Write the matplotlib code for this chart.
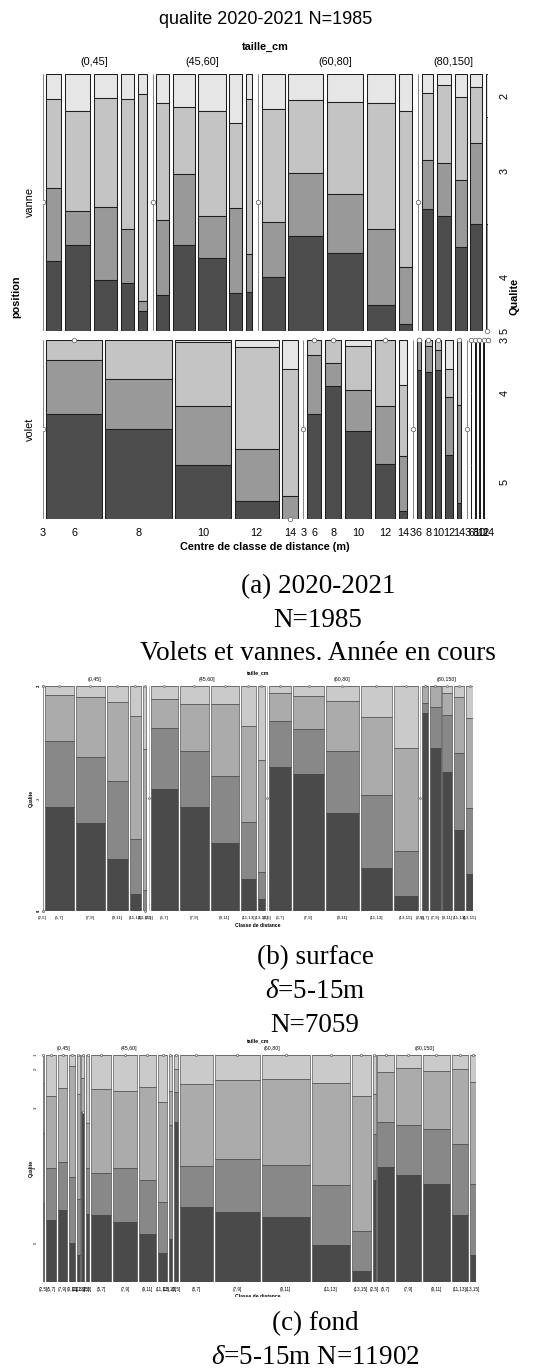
import matplotlib
matplotlib.use("Agg")
import matplotlib.pyplot as plt
from matplotlib.transforms import offset_copy
from matplotlib.patches import Rectangle
import numpy as np

W_PX, H_PX, DPI = 554, 1369, 100

plt.rcParams['font.family'] = ['Liberation Sans', 'DejaVu Sans']
plt.rcParams['mathtext.fontset'] = 'custom'
plt.rcParams['mathtext.rm'] = 'Liberation Serif'
plt.rcParams['mathtext.it'] = 'Liberation Serif:italic'

# ------------------------------------------------------------------ data
taille_classes = ["(0,45]", "(45,60]", "(60,80]", "(80,150]"]
distance_centres = ["3", "6", "8", "10", "12", "14"]
distance_classes = ["(2,5]", "(5,7]", "(7,9]", "(9,11]", "(11,13]", "(13,15]"]
qualite_a = ["2", "3", "4", "5"]
qualite_bc = ["1", "2", "3", "4", "5"]

# (a) 2020-2021 : counts per taille group x distance centre
vanne_counts = [[0, 50, 83, 76, 44, 30],
                [0, 42, 72, 90, 43, 20],
                [0, 76, 115, 119, 95, 44],
                [0, 38, 45, 40, 38, 8]]
volet_counts = [[0, 128, 153, 128, 102, 35],
                [0, 33, 38, 60, 46, 20],
                [0, 10, 16, 13, 19, 11],
                [0, 1, 1, 1, 1, 1]]
# proportions of qualite 2,3,4,5 in each column
vanne_props = [
    [[0, 0, 0, 0], [0.097, 0.346, 0.287, 0.270], [0.143, 0.391, 0.132, 0.334],
     [0.092, 0.427, 0.284, 0.197], [0.096, 0.507, 0.213, 0.184], [0.077, 0.809, 0.039, 0.075]],
    [[0, 0, 0, 0], [0.114, 0.454, 0.293, 0.139], [0.128, 0.261, 0.277, 0.334],
     [0.143, 0.410, 0.165, 0.282], [0.192, 0.332, 0.329, 0.147], [0.098, 0.603, 0.149, 0.150]],
    [[0, 0, 0, 0], [0.137, 0.439, 0.214, 0.210], [0.101, 0.285, 0.245, 0.369],
     [0.108, 0.360, 0.230, 0.302], [0.114, 0.490, 0.295, 0.101], [0.145, 0.609, 0.220, 0.026]],
    [[0, 0, 0, 0], [0.074, 0.260, 0.192, 0.474], [0.044, 0.304, 0.204, 0.448],
     [0.088, 0.325, 0.260, 0.327], [0.049, 0.219, 0.316, 0.416], [0.168, 0.416, 0.416, 0.0]],
]
volet_props = [
    [[0, 0, 0, 0], [0, 0.114, 0.302, 0.584], [0.004, 0.218, 0.277, 0.501],
     [0.015, 0.356, 0.328, 0.301], [0.043, 0.568, 0.289, 0.100], [0.162, 0.710, 0.128, 0.0]],
    [[0, 0, 0, 0], [0, 0.086, 0.328, 0.586], [0, 0.130, 0.129, 0.741],
     [0.034, 0.248, 0.229, 0.489], [0, 0.370, 0.325, 0.305], [0.252, 0.398, 0.307, 0.043]],
    [[0, 0, 0, 0], [0, 0, 0.168, 0.832], [0, 0.037, 0.146, 0.817],
     [0, 0.056, 0.112, 0.832], [0.164, 0.157, 0.323, 0.356], [0, 0.364, 0.548, 0.088]],
    [[0, 0, 0, 0], [0, 0.3, 0.4, 0.3], [0, 0.3, 0.4, 0.3],
     [0, 0.3, 0.4, 0.3], [0, 0.3, 0.4, 0.3], [0, 0, 0.592, 0.408]],
]
vanne_right_labels = ["2", "3", "4", "5"]
volet_right_labels = ["3", "4", "5"]

# (b) surface, N=7059 : proportions of qualite 1..5
surface_counts = [[1, 538, 529, 388, 203, 70],
                  [0, 494, 534, 516, 273, 134],
                  [0, 410, 556, 609, 574, 435],
                  [0, 103, 202, 184, 183, 123]]
surface_props = [
    [[0, 0, 1, 0, 0], [0, 0.040, 0.205, 0.295, 0.460], [0, 0.047, 0.267, 0.297, 0.389],
     [0, 0.070, 0.352, 0.346, 0.232], [0, 0.134, 0.545, 0.247, 0.074], [0, 0.28, 0.63, 0.09, 0.0]],
    [[0, 0, 0, 0, 0], [0, 0.059, 0.129, 0.270, 0.542], [0, 0.080, 0.209, 0.248, 0.463],
     [0, 0.080, 0.320, 0.300, 0.300], [0, 0.178, 0.426, 0.257, 0.139], [0, 0.329, 0.500, 0.120, 0.051]],
    [[0, 0, 0, 0, 0], [0, 0.033, 0.123, 0.203, 0.641], [0, 0.043, 0.150, 0.199, 0.608],
     [0, 0.065, 0.224, 0.274, 0.437], [0, 0.139, 0.346, 0.326, 0.189], [0, 0.274, 0.460, 0.200, 0.066]],
    [[0, 0, 0, 0, 0], [0, 0, 0.074, 0.046, 0.880], [0, 0, 0.095, 0.180, 0.725],
     [0, 0.033, 0.096, 0.252, 0.619], [0, 0.047, 0.252, 0.344, 0.357], [0, 0.144, 0.400, 0.293, 0.163]],
]

# (c) fond, N=11902
fond_counts = [[43, 324, 278, 201, 78, 78],
               [86, 623, 718, 545, 273, 86],
               [115, 1022, 1369, 1462, 1166, 574],
               [78, 508, 766, 833, 491, 184]]
fond_props = [
    [[0, 0.124, 0.22, 0.31, 0.346], [0, 0.181, 0.316, 0.231, 0.272], [0, 0.144, 0.326, 0.212, 0.318],
     [0, 0.05, 0.49, 0.29, 0.17], [0, 0.17, 0.467, 0.245, 0.118], [0, 0.1, 0.15, 0.0, 0.75]],
    [[0, 0.3, 0.2, 0.2, 0.3], [0, 0.151, 0.371, 0.184, 0.294], [0, 0.157, 0.343, 0.235, 0.265],
     [0, 0.143, 0.408, 0.24, 0.209], [0, 0.206, 0.441, 0.228, 0.125], [0, 0.16, 0.15, 0.5, 0.19]],
    [[0, 0.062, 0.1, 0.132, 0.706], [0, 0.129, 0.359, 0.184, 0.328], [0, 0.11, 0.349, 0.232, 0.309],
     [0, 0.106, 0.378, 0.232, 0.284], [0, 0.125, 0.449, 0.262, 0.164], [0, 0.181, 0.596, 0.174, 0.049]],
    [[0, 0.17, 0.18, 0.2, 0.45], [0, 0.076, 0.221, 0.199, 0.504], [0, 0.059, 0.25, 0.22, 0.471],
     [0, 0.071, 0.256, 0.24, 0.433], [0, 0.063, 0.331, 0.313, 0.293], [0, 0.118, 0.452, 0.313, 0.117]],
]

colors_a = ["#E6E6E6", "#C4C4C4", "#999999", "#4D4D4D"]
colors_bc = ["#EEEEEE", "#CACACA", "#ABABAB", "#888888", "#4A4A4A"]

# ------------------------------------------------------------------ helpers
fig = plt.figure(figsize=(W_PX / DPI, H_PX / DPI), dpi=DPI)
fig.patch.set_facecolor("white")


def rect(x0, y0, x1, y1):
    return [x0 / W_PX, 1 - y1 / H_PX, (x1 - x0) / W_PX, (y1 - y0) / H_PX]


def ftext(x, y, s, **kw):
    return fig.text(x / W_PX, 1 - y / H_PX, s, **kw)


def xtext(ax, x, yax, s, dy=0.0, **kw):
    tr = offset_copy(ax.get_xaxis_transform(), fig=fig, x=0, y=dy, units="dots")
    return ax.text(x, yax, s, transform=tr, **kw)


def ytext(ax, xax, y, s, dx=0.0, **kw):
    tr = offset_copy(ax.get_yaxis_transform(), fig=fig, x=dx, y=0, units="dots")
    return ax.text(xax, y, s, transform=tr, **kw)


def mosaic(ax, counts, props, colors, gi, gg, ec, lw, ms, zc="#8A8A8A"):
    total = sum(sum(g) for g in counts)
    ncols = sum(len(g) for g in counts)
    ng = len(counts)
    W = total / (1 - (ncols - ng) * gi - (ng - 1) * gg)
    x = 0.0
    centres, spans, cells = [], [], []
    for gidx, (gc, gp) in enumerate(zip(counts, props)):
        g0 = x
        for cidx, (c, p) in enumerate(zip(gc, gp)):
            centres.append(x + c / 2)
            if c == 0:
                ax.plot([x, x], [0, 1], color=zc, lw=lw, solid_capstyle="butt")
                ax.plot(x, 0.5, "o", ms=ms, mfc="white", mec="#707070", mew=0.6, zorder=5)
                cells.append(None)
            else:
                p = np.asarray(p, float)
                p = p / p.sum()
                bottoms = np.concatenate([[0], np.cumsum(p)[:-1]])
                ax.bar(x, p, width=c, bottom=bottoms, align="edge", color=colors,
                       edgecolor=ec, linewidth=lw)
                for v, b in zip(p, bottoms):
                    if v == 0:
                        ax.plot(x + c / 2, b, "o", ms=ms, mfc="white", mec="#707070",
                                mew=0.6, zorder=5, clip_on=False)
                cells.append(bottoms + p / 2)
            x += c
            if cidx < len(gc) - 1:
                x += gi * W
        spans.append((g0, x))
        if gidx < ng - 1:
            x += gg * W
    ax.set_xlim(0, W)
    ax.set_ylim(1, 0)
    ax.set_axis_off()
    return centres, spans, cells


# ------------------------------------------------------------------ panel (a)
A_L, A_R, A_T, A_B, A_GAP = 42.6, 488.0, 74.0, 519.0, 9.0
A_MID = (A_L + A_R) / 2
n_vanne = sum(map(sum, vanne_counts))
n_volet = sum(map(sum, volet_counts))
h_vanne = (A_B - A_T - A_GAP) * n_vanne / (n_vanne + n_volet)
ax_vanne = fig.add_axes(rect(A_L, A_T, A_R, A_T + h_vanne))
ax_volet = fig.add_axes(rect(A_L, A_T + h_vanne + A_GAP, A_R, A_B))

gi_a, gg_a = 0.00836, 0.01295
c_v, s_v, cells_v = mosaic(ax_vanne, vanne_counts, vanne_props, colors_a, gi_a, gg_a,
                           "#1E1E1E", 0.75, 3.2)
c_o, s_o, cells_o = mosaic(ax_volet, volet_counts, volet_props, colors_a, gi_a, gg_a,
                           "#1E1E1E", 0.75, 3.2)

for (g0, g1), lab in zip(s_v, taille_classes):
    xtext(ax_vanne, (g0 + g1) / 2, 1, lab, dy=12, ha="center", va="center", fontsize=7.8)
for xc, lab in zip(c_o, distance_centres * 4):
    xtext(ax_volet, xc, 0, lab, dy=-14, ha="center", va="center", fontsize=7.8)

last_v = cells_v[-1]
for lab in vanne_right_labels:
    ytext(ax_vanne, 1, last_v[qualite_a.index(lab)], lab, dx=16.8, rotation=90,
          ha="center", va="center", fontsize=7.8)
last_o = cells_o[-1]
for lab in volet_right_labels:
    ytext(ax_volet, 1, last_o[qualite_a.index(lab)], lab, dx=16.8, rotation=90,
          ha="center", va="center", fontsize=7.8)

ftext(A_MID, 20, "qualite 2020-2021 N=1985", ha="center", va="center", fontsize=13.0)
ftext(A_MID, 47, "taille_cm", ha="center", va="center", fontsize=7.8, fontweight="bold")
ftext(A_MID, 547.5, "Centre de classe de distance (m)", ha="center", va="center",
      fontsize=7.8, fontweight="bold")
ftext(30.0, A_T + h_vanne / 2, "vanne", ha="center", va="center", rotation=90, fontsize=7.8)
ftext(30.0, A_T + h_vanne + A_GAP + (A_B - A_T - h_vanne - A_GAP) / 2, "volet",
      ha="center", va="center", rotation=90, fontsize=7.8)
ftext(16.6, (A_T + A_B) / 2, "position", ha="center", va="center", rotation=90,
      fontsize=7.8, fontweight="bold")
ftext(514.3, (A_T + A_B) / 2, "Qualite", ha="center", va="center", rotation=90,
      fontsize=7.8, fontweight="bold")

# ------------------------------------------------------------------ panel (b)
B_L, B_R, B_T, B_B = 42.5, 473.1, 686.0, 910.7
ax_b = fig.add_axes(rect(B_L, B_T, B_R, B_B))
c_b, s_b, cells_b = mosaic(ax_b, surface_counts, surface_props, colors_bc,
                           0.00461, 0.00549, "#3A3A3A", 0.4, 1.3)
for (g0, g1), lab in zip(s_b, taille_classes):
    xtext(ax_b, (g0 + g1) / 2, 1, lab, dy=6.7, ha="center", va="center", fontsize=3.8)
for xc, lab in zip(c_b, distance_classes * 4):
    xtext(ax_b, xc, 0, lab, dy=-7.6, ha="center", va="center", fontsize=3.2)
first_b = cells_b[0]
for i, lab in enumerate(qualite_bc):
    ytext(ax_b, 0, first_b[i], lab, dx=-3.6, rotation=90, ha="center", va="center", fontsize=3.1)
ftext(257.8, 673, "taille_cm", ha="center", va="center", fontsize=3.7, fontweight="bold")
ftext(258, 925.3, "Classe de distance", ha="center", va="center", fontsize=3.6,
      fontweight="bold")
ftext(30.9, (B_T + B_B) / 2, "Qualite", ha="center", va="center", rotation=90,
      fontsize=3.6, fontweight="bold")

# ------------------------------------------------------------------ panel (c)
C_L, C_R, C_T, C_B = 42.5, 475.7, 1055.0, 1281.7
ax_c = fig.add_axes(rect(C_L, C_T, C_R, C_B))
c_c, s_c, cells_c = mosaic(ax_c, fond_counts, fond_props, colors_bc,
                           0.00393, 0.00546, "#3A3A3A", 0.4, 1.5)
for (g0, g1), lab in zip(s_c, taille_classes):
    xtext(ax_c, (g0 + g1) / 2, 1, lab, dy=6.7, ha="center", va="center", fontsize=3.8)
for xc, lab in zip(c_c, distance_classes * 4):
    xtext(ax_c, xc, 0, lab, dy=-7.3, ha="center", va="center", fontsize=3.3)
first_c = cells_c[0]
for i, lab in enumerate(qualite_bc):
    ytext(ax_c, 0, first_c[i], lab, dx=-7.1, rotation=90, ha="center", va="center", fontsize=3.2)
ftext(258, 1041, "taille_cm", ha="center", va="center", fontsize=3.7, fontweight="bold")
ftext(258, 1297, "Classe de distance", ha="center", va="center", fontsize=3.6,
      fontweight="bold")
ftext(30.9, (C_T + C_B) / 2, "Qualite", ha="center", va="center", rotation=90,
      fontsize=3.6, fontweight="bold")
fig.add_artist(Rectangle((189 / W_PX, 1 - 1303 / H_PX), 142 / W_PX, 6 / H_PX,
                         transform=fig.transFigure, facecolor="white", edgecolor="none",
                         zorder=10))

# ------------------------------------------------------------------ captions
cap = dict(ha="center", va="baseline", family=["Liberation Serif", "DejaVu Serif"], fontsize=19.5)
ftext(318, 593, "(a) 2020-2021", **cap)
ftext(318, 627, "N=1985", **cap)
ftext(318, 660, "Volets et vannes. Année en cours", **cap)
ftext(315, 964, "(b) surface", **cap)
ftext(315, 998, r"$\delta$=5-15m", **cap)
ftext(315, 1032, "N=7059", **cap)
ftext(315, 1330, "(c) fond", **cap)
ftext(315, 1364, r"$\delta$=5-15m N=11902", **cap)

fig.savefig("out.png", dpi=DPI, facecolor="white")
